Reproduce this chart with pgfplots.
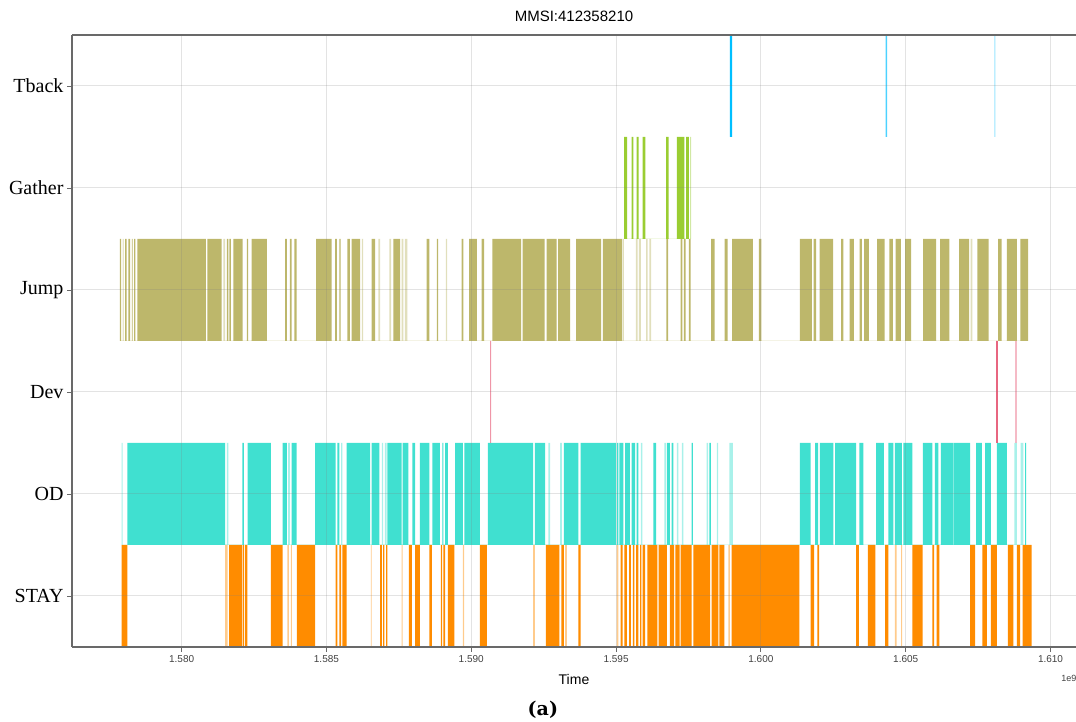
\documentclass[border=0pt]{standalone}
\usepackage{pgfplots}
\pgfplotsset{compat=1.18}
\usepackage{fontspec}
\setmainfont{Liberation Serif}
\newfontfamily\sansf{Liberation Sans}
\newfontfamily\capf{DejaVu Serif}
\definecolor{cStay}{RGB}{255,140,0}
\definecolor{cOD}{RGB}{64,224,208}
\definecolor{cDev}{RGB}{220,20,60}
\definecolor{cJump}{RGB}{189,183,107}
\definecolor{cGather}{RGB}{154,205,50}
\definecolor{cTback}{RGB}{0,191,255}
\definecolor{spine}{RGB}{105,105,105}
\begin{document}
\begin{tikzpicture}
\useasboundingbox (-72pt,-75pt) rectangle (1004pt,647pt);
\begin{axis}[
  at={(0pt,0pt)}, anchor=south west,
  scale only axis, width=1004pt, height=612pt,
  xmin=1576.215, xmax=1610.88, ymin=-0.5, ymax=5.5,
  clip mode=individual,
  axis x line*=box, axis y line*=left,
  axis line style={spine, line width=1.2pt},
  xtick={1580,1585,1590,1595,1600,1605,1610},
  xticklabels={1.580,1.585,1.590,1.595,1.600,1.605,1.610},
  ytick={0,1,2,3,4,5},
  yticklabels={STAY,OD,Dev,Jump,Gather,Tback},
  xtick pos=left, ytick pos=left,
  tick align=outside, major tick length=5pt,
  tick style={spine, line width=0.8pt},
  grid=major, grid style={gray, opacity=0.22, line width=1pt},
  axis on top,
  x tick label style={font=\sansf\fontsize{10}{10}\selectfont, text=black!75},
  y tick label style={font=\fontsize{20}{20}\selectfont},
  title={MMSI:412358210},
  title style={font=\sansf\fontsize{15}{15}\selectfont, at={(axis description cs:0.5,1)}, anchor=base, yshift=7pt},
  xlabel={Time},
  xlabel style={font=\sansf\fontsize{14}{14}\selectfont, at={(axis description cs:0.5,0)}, anchor=center, yshift=-32pt},
  solid/.style={const plot, fill=#1, draw=none},
  light/.style={const plot, fill=#1, fill opacity=0.45, draw=none},
]
% STAY (solid)
\addplot[solid=cStay] coordinates {
(1577.93,-0.5)
(1577.93,0.5)(1578.13,-0.5)
(1581.64,0.5)(1582.08,-0.5)
(1582.11,0.5)(1582.15,-0.5)
(1582.18,0.5)(1582.27,-0.5)
(1583.08,0.5)(1583.49,-0.5)
(1583.98,0.5)(1584.61,-0.5)
(1585.32,0.5)(1585.38,-0.5)
(1585.45,0.5)(1585.51,-0.5)
(1585.55,0.5)(1585.70,-0.5)
(1586.85,0.5)(1586.91,-0.5)
(1586.96,0.5)(1587.00,-0.5)
(1587.06,0.5)(1587.10,-0.5)
(1587.85,0.5)(1587.95,-0.5)
(1588.06,0.5)(1588.23,-0.5)
(1588.55,0.5)(1588.64,-0.5)
(1588.95,0.5)(1588.99,-0.5)
(1589.04,0.5)(1589.10,-0.5)
(1589.19,0.5)(1589.42,-0.5)
(1590.30,0.5)(1590.54,-0.5)
(1592.58,0.5)(1593.04,-0.5)
(1593.11,0.5)(1593.20,-0.5)
(1593.70,0.5)(1593.78,-0.5)
(1595.16,0.5)(1595.23,-0.5)
(1595.29,0.5)(1595.37,-0.5)
(1595.45,0.5)(1595.51,-0.5)
(1595.58,0.5)(1595.63,-0.5)
(1595.69,0.5)(1595.77,-0.5)
(1595.83,0.5)(1595.87,-0.5)
(1595.92,0.5)(1596.00,-0.5)
(1596.08,0.5)(1596.43,-0.5)
(1596.47,0.5)(1596.75,-0.5)
(1596.86,0.5)(1597.00,-0.5)
(1597.05,0.5)(1597.19,-0.5)
(1597.23,0.5)(1597.61,-0.5)
(1597.67,0.5)(1598.25,-0.5)
(1598.30,0.5)(1598.53,-0.5)
(1598.57,0.5)(1598.74,-0.5)
(1598.99,0.5)(1601.33,-0.5)
(1601.72,0.5)(1601.84,-0.5)
(1601.95,0.5)(1602.01,-0.5)
(1603.29,0.5)(1603.38,-0.5)
(1603.69,0.5)(1603.95,-0.5)
(1604.29,0.5)(1604.40,-0.5)
(1605.23,0.5)(1605.58,-0.5)
(1605.92,0.5)(1605.98,-0.5)
(1606.07,0.5)(1606.16,-0.5)
(1607.22,0.5)(1607.40,-0.5)
(1607.65,0.5)(1607.80,-0.5)
(1607.94,0.5)(1608.15,-0.5)
(1608.53,0.5)(1608.72,-0.5)
(1608.84,0.5)(1608.95,-0.5)
(1609.04,0.5)(1609.35,-0.5)
};
% STAY (single events)
\addplot[light=cStay] coordinates {
(1581.50,-0.5)
(1581.50,0.5)(1581.59,-0.5)
(1583.65,0.5)(1583.70,-0.5)
(1583.77,0.5)(1583.81,-0.5)
(1586.53,0.5)(1586.56,-0.5)
(1587.60,0.5)(1587.63,-0.5)
(1589.71,0.5)(1589.75,-0.5)
(1592.14,0.5)(1592.20,-0.5)
(1593.24,0.5)(1593.30,-0.5)
(1595.02,0.5)(1595.08,-0.5)
(1598.88,0.5)(1598.93,-0.5)
(1604.63,0.5)(1604.69,-0.5)
(1604.84,0.5)(1604.88,-0.5)
};
% OD (solid)
\addplot[solid=cOD] coordinates {
(1578.13,0.5)
(1578.13,1.5)(1581.50,0.5)
(1582.10,1.5)(1582.15,0.5)
(1582.28,1.5)(1583.08,0.5)
(1583.49,1.5)(1583.63,0.5)
(1583.80,1.5)(1583.97,0.5)
(1584.61,1.5)(1585.32,0.5)
(1585.38,1.5)(1585.45,0.5)
(1585.70,1.5)(1586.51,0.5)
(1586.56,1.5)(1586.83,0.5)
(1587.10,1.5)(1587.60,0.5)
(1587.63,1.5)(1587.83,0.5)
(1587.97,1.5)(1588.06,0.5)
(1588.23,1.5)(1588.55,0.5)
(1588.66,1.5)(1588.92,0.5)
(1589.00,1.5)(1589.04,0.5)
(1589.10,1.5)(1589.19,0.5)
(1589.44,1.5)(1589.71,0.5)
(1589.76,1.5)(1590.30,0.5)
(1590.57,1.5)(1592.14,0.5)
(1592.20,1.5)(1592.55,0.5)
(1593.20,1.5)(1593.70,0.5)
(1593.78,1.5)(1595.00,0.5)
(1595.04,1.5)(1595.08,0.5)
(1595.11,1.5)(1595.25,0.5)
(1595.31,1.5)(1595.48,0.5)
(1595.54,1.5)(1595.66,0.5)
(1595.71,1.5)(1595.77,0.5)
(1596.29,1.5)(1596.38,0.5)
(1596.75,1.5)(1596.86,0.5)
(1596.92,1.5)(1596.98,0.5)
(1597.61,1.5)(1597.65,0.5)
(1598.22,1.5)(1598.27,0.5)
(1601.35,1.5)(1601.72,0.5)
(1601.87,1.5)(1601.98,0.5)
(1602.04,1.5)(1602.50,0.5)
(1602.56,1.5)(1603.29,0.5)
(1603.40,1.5)(1603.54,0.5)
(1603.98,1.5)(1604.25,0.5)
(1604.40,1.5)(1604.57,0.5)
(1604.63,1.5)(1604.87,0.5)
(1604.92,1.5)(1605.23,0.5)
(1605.59,1.5)(1605.92,0.5)
(1606.01,1.5)(1606.13,0.5)
(1606.21,1.5)(1606.65,0.5)
(1606.67,1.5)(1607.22,0.5)
(1607.43,1.5)(1607.63,0.5)
(1607.74,1.5)(1607.94,0.5)
(1608.15,1.5)(1608.49,0.5)
(1609.12,1.5)(1609.16,0.5)
};
% OD (single events)
\addplot[light=cOD] coordinates {
(1577.93,0.5)
(1577.93,1.5)(1577.96,0.5)
(1581.56,1.5)(1581.61,0.5)
(1583.68,1.5)(1583.74,0.5)
(1585.51,1.5)(1585.55,0.5)
(1586.91,1.5)(1586.96,0.5)
(1587.02,1.5)(1587.08,0.5)
(1592.66,1.5)(1592.72,0.5)
(1593.07,1.5)(1593.13,0.5)
(1595.86,1.5)(1595.91,0.5)
(1596.67,1.5)(1596.72,0.5)
(1597.10,1.5)(1597.15,0.5)
(1597.27,1.5)(1597.32,0.5)
(1598.13,1.5)(1598.18,0.5)
(1598.48,1.5)(1598.52,0.5)
(1598.91,1.5)(1599.03,0.5)
(1608.75,1.5)(1608.84,0.5)
(1608.97,1.5)(1609.06,0.5)
};
% Dev
\addplot[light=cDev] coordinates {
(1590.65,1.5)(1590.65,2.5)(1590.69,1.5)
};
\addplot[solid=cDev] coordinates {
(1608.13,1.5)(1608.13,2.5)(1608.17,1.5)
};
\addplot[light=cDev] coordinates {
(1608.79,1.5)(1608.79,2.5)(1608.83,1.5)
};
% Jump (solid)
\addplot[solid=cJump] coordinates {
(1577.87,2.5)
(1577.87,3.5)(1577.91,2.5)
(1577.97,3.5)(1577.99,2.5)
(1578.05,3.5)(1578.10,2.5)
(1578.16,3.5)(1578.22,2.5)
(1578.28,3.5)(1578.31,2.5)
(1578.36,3.5)(1578.40,2.5)
(1578.47,3.5)(1580.84,2.5)
(1580.89,3.5)(1581.38,2.5)
(1581.56,3.5)(1581.61,2.5)
(1581.65,3.5)(1581.70,2.5)
(1581.79,3.5)(1582.11,2.5)
(1582.25,3.5)(1582.30,2.5)
(1582.42,3.5)(1582.94,2.5)
(1583.57,3.5)(1583.63,2.5)
(1583.74,3.5)(1583.80,2.5)
(1583.89,3.5)(1583.97,2.5)
(1584.64,3.5)(1585.18,2.5)
(1585.30,3.5)(1585.36,2.5)
(1585.45,3.5)(1585.49,2.5)
(1585.72,3.5)(1585.81,2.5)
(1585.87,3.5)(1586.16,2.5)
(1586.56,3.5)(1586.68,2.5)
(1587.31,3.5)(1587.54,2.5)
(1588.46,3.5)(1588.55,2.5)
(1588.81,3.5)(1588.86,2.5)
(1589.67,3.5)(1589.73,2.5)
(1589.93,3.5)(1590.19,2.5)
(1590.36,3.5)(1590.44,2.5)
(1590.73,3.5)(1591.72,2.5)
(1591.77,3.5)(1592.53,2.5)
(1592.60,3.5)(1592.95,2.5)
(1593.00,3.5)(1593.41,2.5)
(1593.62,3.5)(1594.48,2.5)
(1594.54,3.5)(1595.21,2.5)
(1596.74,3.5)(1596.80,2.5)
(1597.23,3.5)(1597.29,2.5)
(1597.34,3.5)(1597.40,2.5)
(1597.51,3.5)(1597.57,2.5)
(1598.28,3.5)(1598.40,2.5)
(1598.75,3.5)(1598.85,2.5)
(1599.01,3.5)(1599.72,2.5)
(1599.93,3.5)(1600.02,2.5)
(1601.35,3.5)(1601.76,2.5)
(1601.82,3.5)(1601.91,2.5)
(1602.03,3.5)(1602.49,2.5)
(1602.77,3.5)(1602.85,2.5)
(1603.06,3.5)(1603.21,2.5)
(1603.41,3.5)(1603.49,2.5)
(1603.56,3.5)(1603.73,2.5)
(1604.01,3.5)(1604.27,2.5)
(1604.44,3.5)(1604.56,2.5)
(1604.65,3.5)(1604.83,2.5)
(1604.98,3.5)(1605.19,2.5)
(1605.60,3.5)(1606.05,2.5)
(1606.19,3.5)(1606.51,2.5)
(1606.84,3.5)(1607.19,2.5)
(1607.47,3.5)(1607.86,2.5)
(1608.19,3.5)(1608.31,2.5)
(1608.49,3.5)(1608.84,2.5)
(1608.96,3.5)(1609.23,2.5)
};
% Jump (single events)
\addplot[light=cJump] coordinates {
(1581.44,2.5)
(1581.44,3.5)(1581.50,2.5)
(1586.22,3.5)(1586.27,2.5)
(1586.79,3.5)(1586.85,2.5)
(1587.17,3.5)(1587.23,2.5)
(1587.60,3.5)(1587.66,2.5)
(1587.71,3.5)(1587.79,2.5)
(1589.12,3.5)(1589.17,2.5)
(1595.23,3.5)(1595.27,2.5)
(1595.68,3.5)(1595.74,2.5)
(1595.79,3.5)(1595.86,2.5)
(1596.04,3.5)(1596.09,2.5)
(1596.15,3.5)(1596.21,2.5)
(1607.24,3.5)(1607.30,2.5)
};
% Gather
\addplot[solid=cGather] coordinates {
(1595.28,3.5)
(1595.28,4.5)(1595.38,3.5)
(1595.54,4.5)(1595.60,3.5)
(1595.71,4.5)(1595.78,3.5)
(1595.92,4.5)(1596.01,3.5)
(1596.73,4.5)(1596.81,3.5)
(1597.10,4.5)(1597.36,3.5)
(1597.42,4.5)(1597.51,3.5)
};
\addplot[light=cGather] coordinates {
(1597.56,3.5)(1597.56,4.5)(1597.59,3.5)
};
% Tback
\addplot[solid=cTback] coordinates {
(1598.93,4.5)(1598.93,5.5)(1599.01,4.5)
};
\addplot[const plot, fill=cTback, fill opacity=0.7, draw=none] coordinates {
(1604.31,4.5)(1604.31,5.5)(1604.36,4.5)
};
\addplot[const plot, fill=cTback, fill opacity=0.4, draw=none] coordinates {
(1608.06,4.5)(1608.06,5.5)(1608.10,4.5)
};
\node[font=\sansf\fontsize{9}{9}\selectfont, text=black!75, yshift=-31pt] at (rel axis cs:0.993,0) {1e9};
\node[font=\capf\bfseries\fontsize{19}{19}\selectfont, yshift=-63pt] at (rel axis cs:0.469,0) {(a)};
\end{axis}
\end{tikzpicture}
\end{document}
